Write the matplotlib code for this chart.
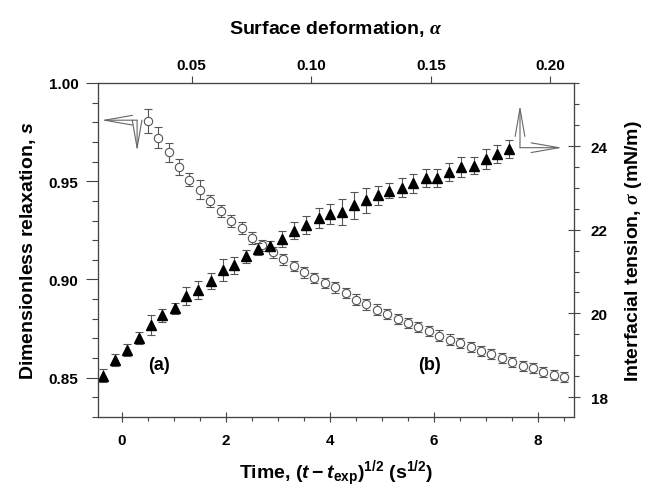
import numpy as np
import matplotlib
matplotlib.use('Agg')
import matplotlib.pyplot as plt
from matplotlib.ticker import MultipleLocator

# dimensionless relaxation s (open circles, left axis)
time_s = [0.5, 0.7, 0.9, 1.1, 1.3, 1.5, 1.7, 1.9, 2.1, 2.3,
          2.5, 2.7, 2.9, 3.1, 3.3, 3.5, 3.7, 3.9, 4.1, 4.3,
          4.5, 4.7, 4.9, 5.1, 5.3, 5.5, 5.7, 5.9, 6.1, 6.3,
          6.5, 6.7, 6.9, 7.1, 7.3, 7.5, 7.7, 7.9, 8.1, 8.3, 8.5]
s_rel = [0.9805, 0.9721, 0.9646, 0.9574, 0.9508, 0.9457, 0.9400, 0.9347, 0.9298, 0.9261,
         0.9210, 0.9175, 0.9138, 0.9104, 0.9069, 0.9038, 0.9008, 0.8982, 0.8961, 0.8931,
         0.8898, 0.8873, 0.8847, 0.8824, 0.8800, 0.8778, 0.8757, 0.8737, 0.8715, 0.8694,
         0.8677, 0.8655, 0.8637, 0.8621, 0.8599, 0.8579, 0.8562, 0.8548, 0.8528, 0.8514, 0.8503]
s_err = [0.0062, 0.0053, 0.0047, 0.0041, 0.0034, 0.0048, 0.0030, 0.0030, 0.0031, 0.0030,
         0.0029, 0.0028, 0.0029, 0.0028, 0.0027, 0.0028, 0.0027, 0.0027, 0.0028, 0.0027,
         0.0027, 0.0026, 0.0027, 0.0026, 0.0026, 0.0027, 0.0026, 0.0026, 0.0026, 0.0027,
         0.0026, 0.0026, 0.0025, 0.0026, 0.0026, 0.0025, 0.0026, 0.0025, 0.0025, 0.0026, 0.0025]

# interfacial tension sigma (filled triangles, right axis)
time_sigma = [-0.36, -0.13, 0.10, 0.33, 0.56, 0.78, 1.02, 1.24, 1.47, 1.71,
              1.94, 2.16, 2.39, 2.62, 2.85, 3.08, 3.31, 3.54, 3.78, 4.00,
              4.23, 4.46, 4.69, 4.92, 5.14, 5.38, 5.60, 5.84, 6.06, 6.29,
              6.52, 6.76, 6.99, 7.21, 7.43]
sigma = [18.51, 18.88, 19.12, 19.41, 19.72, 19.95, 20.12, 20.41, 20.56, 20.78,
         21.04, 21.15, 21.36, 21.54, 21.62, 21.77, 21.98, 22.11, 22.29, 22.38,
         22.43, 22.58, 22.70, 22.82, 22.93, 23.00, 23.11, 23.24, 23.24, 23.38,
         23.50, 23.53, 23.69, 23.81, 23.93]
sigma_err = [0.16, 0.14, 0.14, 0.15, 0.23, 0.15, 0.14, 0.22, 0.22, 0.19,
             0.26, 0.20, 0.16, 0.14, 0.12, 0.19, 0.21, 0.22, 0.24, 0.24,
             0.31, 0.32, 0.29, 0.23, 0.18, 0.23, 0.23, 0.22, 0.22, 0.22,
             0.23, 0.21, 0.25, 0.21, 0.21]

alpha_ticks = [0.05, 0.10, 0.15, 0.20]

plt.rcParams['font.family'] = 'Liberation Sans'
plt.rcParams['font.weight'] = 'bold'
plt.rcParams['axes.labelweight'] = 'bold'
plt.rcParams['mathtext.fontset'] = 'custom'
plt.rcParams['mathtext.rm'] = 'Liberation Sans:bold'
plt.rcParams['mathtext.bf'] = 'Liberation Sans:bold'
plt.rcParams['mathtext.it'] = 'Liberation Sans:italic:bold'
plt.rcParams['mathtext.sf'] = 'Liberation Serif:italic'

grey = '#555555'
spine_c = '#444444'

fig = plt.figure(figsize=(6.48, 5.02), dpi=100)
ax = fig.add_axes([0.151, 0.167, 0.735, 0.666])
ax2 = ax.twinx()
ax_top = ax.twiny()

ax.errorbar(time_s, s_rel, yerr=s_err, fmt='o', mfc='white', mec=grey, ms=6, mew=0.8,
            ecolor=grey, elinewidth=0.8, capsize=3, capthick=0.8)
ax2.errorbar(time_sigma, sigma, yerr=sigma_err, fmt='^', mfc='black', mec='black', ms=7,
             ecolor=grey, elinewidth=0.8, capsize=3, capthick=0.8)

ax.set_xlim(-0.46, 8.69)
ax.set_ylim(0.83, 1.00)
ax2.set_ylim(17.52, 25.51)
ax_top.set_xlim(0.0108, 0.2099)

ax.xaxis.set_major_locator(MultipleLocator(2))
ax.xaxis.set_minor_locator(MultipleLocator(0.5))
ax.yaxis.set_major_locator(MultipleLocator(0.05))
ax.yaxis.set_minor_locator(MultipleLocator(0.01))
ax.yaxis.set_major_formatter(matplotlib.ticker.FormatStrFormatter('%.2f'))
ax2.yaxis.set_major_locator(MultipleLocator(2))
ax2.yaxis.set_minor_locator(MultipleLocator(0.5))
ax_top.set_xticks(alpha_ticks)
ax_top.set_xticklabels(['%.2f' % a for a in alpha_ticks])

ax.tick_params(axis='x', which='major', direction='inout', length=7, width=0.8, color=spine_c,
               labelsize=11, pad=8)
ax.tick_params(axis='x', which='minor', direction='out', length=3, width=0.8, color=spine_c)
ax.tick_params(axis='y', which='major', direction='out', length=9, width=0.8, color=spine_c,
               labelsize=11, pad=5)
ax.tick_params(axis='y', which='minor', direction='out', length=4, width=0.8, color=spine_c)
ax2.tick_params(axis='y', which='major', direction='inout', length=8, width=0.8, color=spine_c,
                labelsize=11, pad=8)
ax2.tick_params(axis='y', which='minor', direction='out', length=3.5, width=0.8, color=spine_c)
ax_top.tick_params(axis='x', which='major', direction='out', length=5, width=0.8, color=spine_c,
                   labelsize=11, pad=3)

for a in (ax, ax2, ax_top):
    for sp in a.spines.values():
        sp.set_color(spine_c)
        sp.set_linewidth(0.8)

ax.set_xlabel(r'Time, $(\mathit{t} - \mathit{t}_{\mathbf{exp}})^{\mathbf{1/2}}$ (s$^{\mathbf{1/2}}$)',
              fontsize=14, labelpad=8)
ax.set_ylabel('Dimensionless relaxation, $\\mathit{s}$', fontsize=14, labelpad=8)
ax2.set_ylabel(r'Interfacial tension, $\mathsf{\sigma}$ (mN/m)', fontsize=14, labelpad=11)
ax_top.set_xlabel(r'Surface deformation, $\mathsf{\alpha}$', fontsize=14, labelpad=18)

# corner arrows pointing to the matching axes
arrow_kw = dict(arrowstyle='->,head_length=2.0,head_width=0.35', color='#666666', lw=0.8,
                shrinkA=0, shrinkB=0)
ax.annotate('', xy=(-0.39, 0.981), xytext=(0.294, 0.981), arrowprops=arrow_kw)
ax.annotate('', xy=(0.294, 0.9653), xytext=(0.294, 0.981), arrowprops=arrow_kw)
ax2.annotate('', xy=(7.65, 24.97), xytext=(7.65, 23.96), arrowprops=arrow_kw)
ax2.annotate('', xy=(8.46, 23.96), xytext=(7.65, 23.96), arrowprops=arrow_kw)

ax.text(0.128, 0.159, '(a)', transform=ax.transAxes, fontsize=13, ha='center', va='center')
ax.text(0.697, 0.159, '(b)', transform=ax.transAxes, fontsize=13, ha='center', va='center')

fig.savefig('out.png', dpi=100)
